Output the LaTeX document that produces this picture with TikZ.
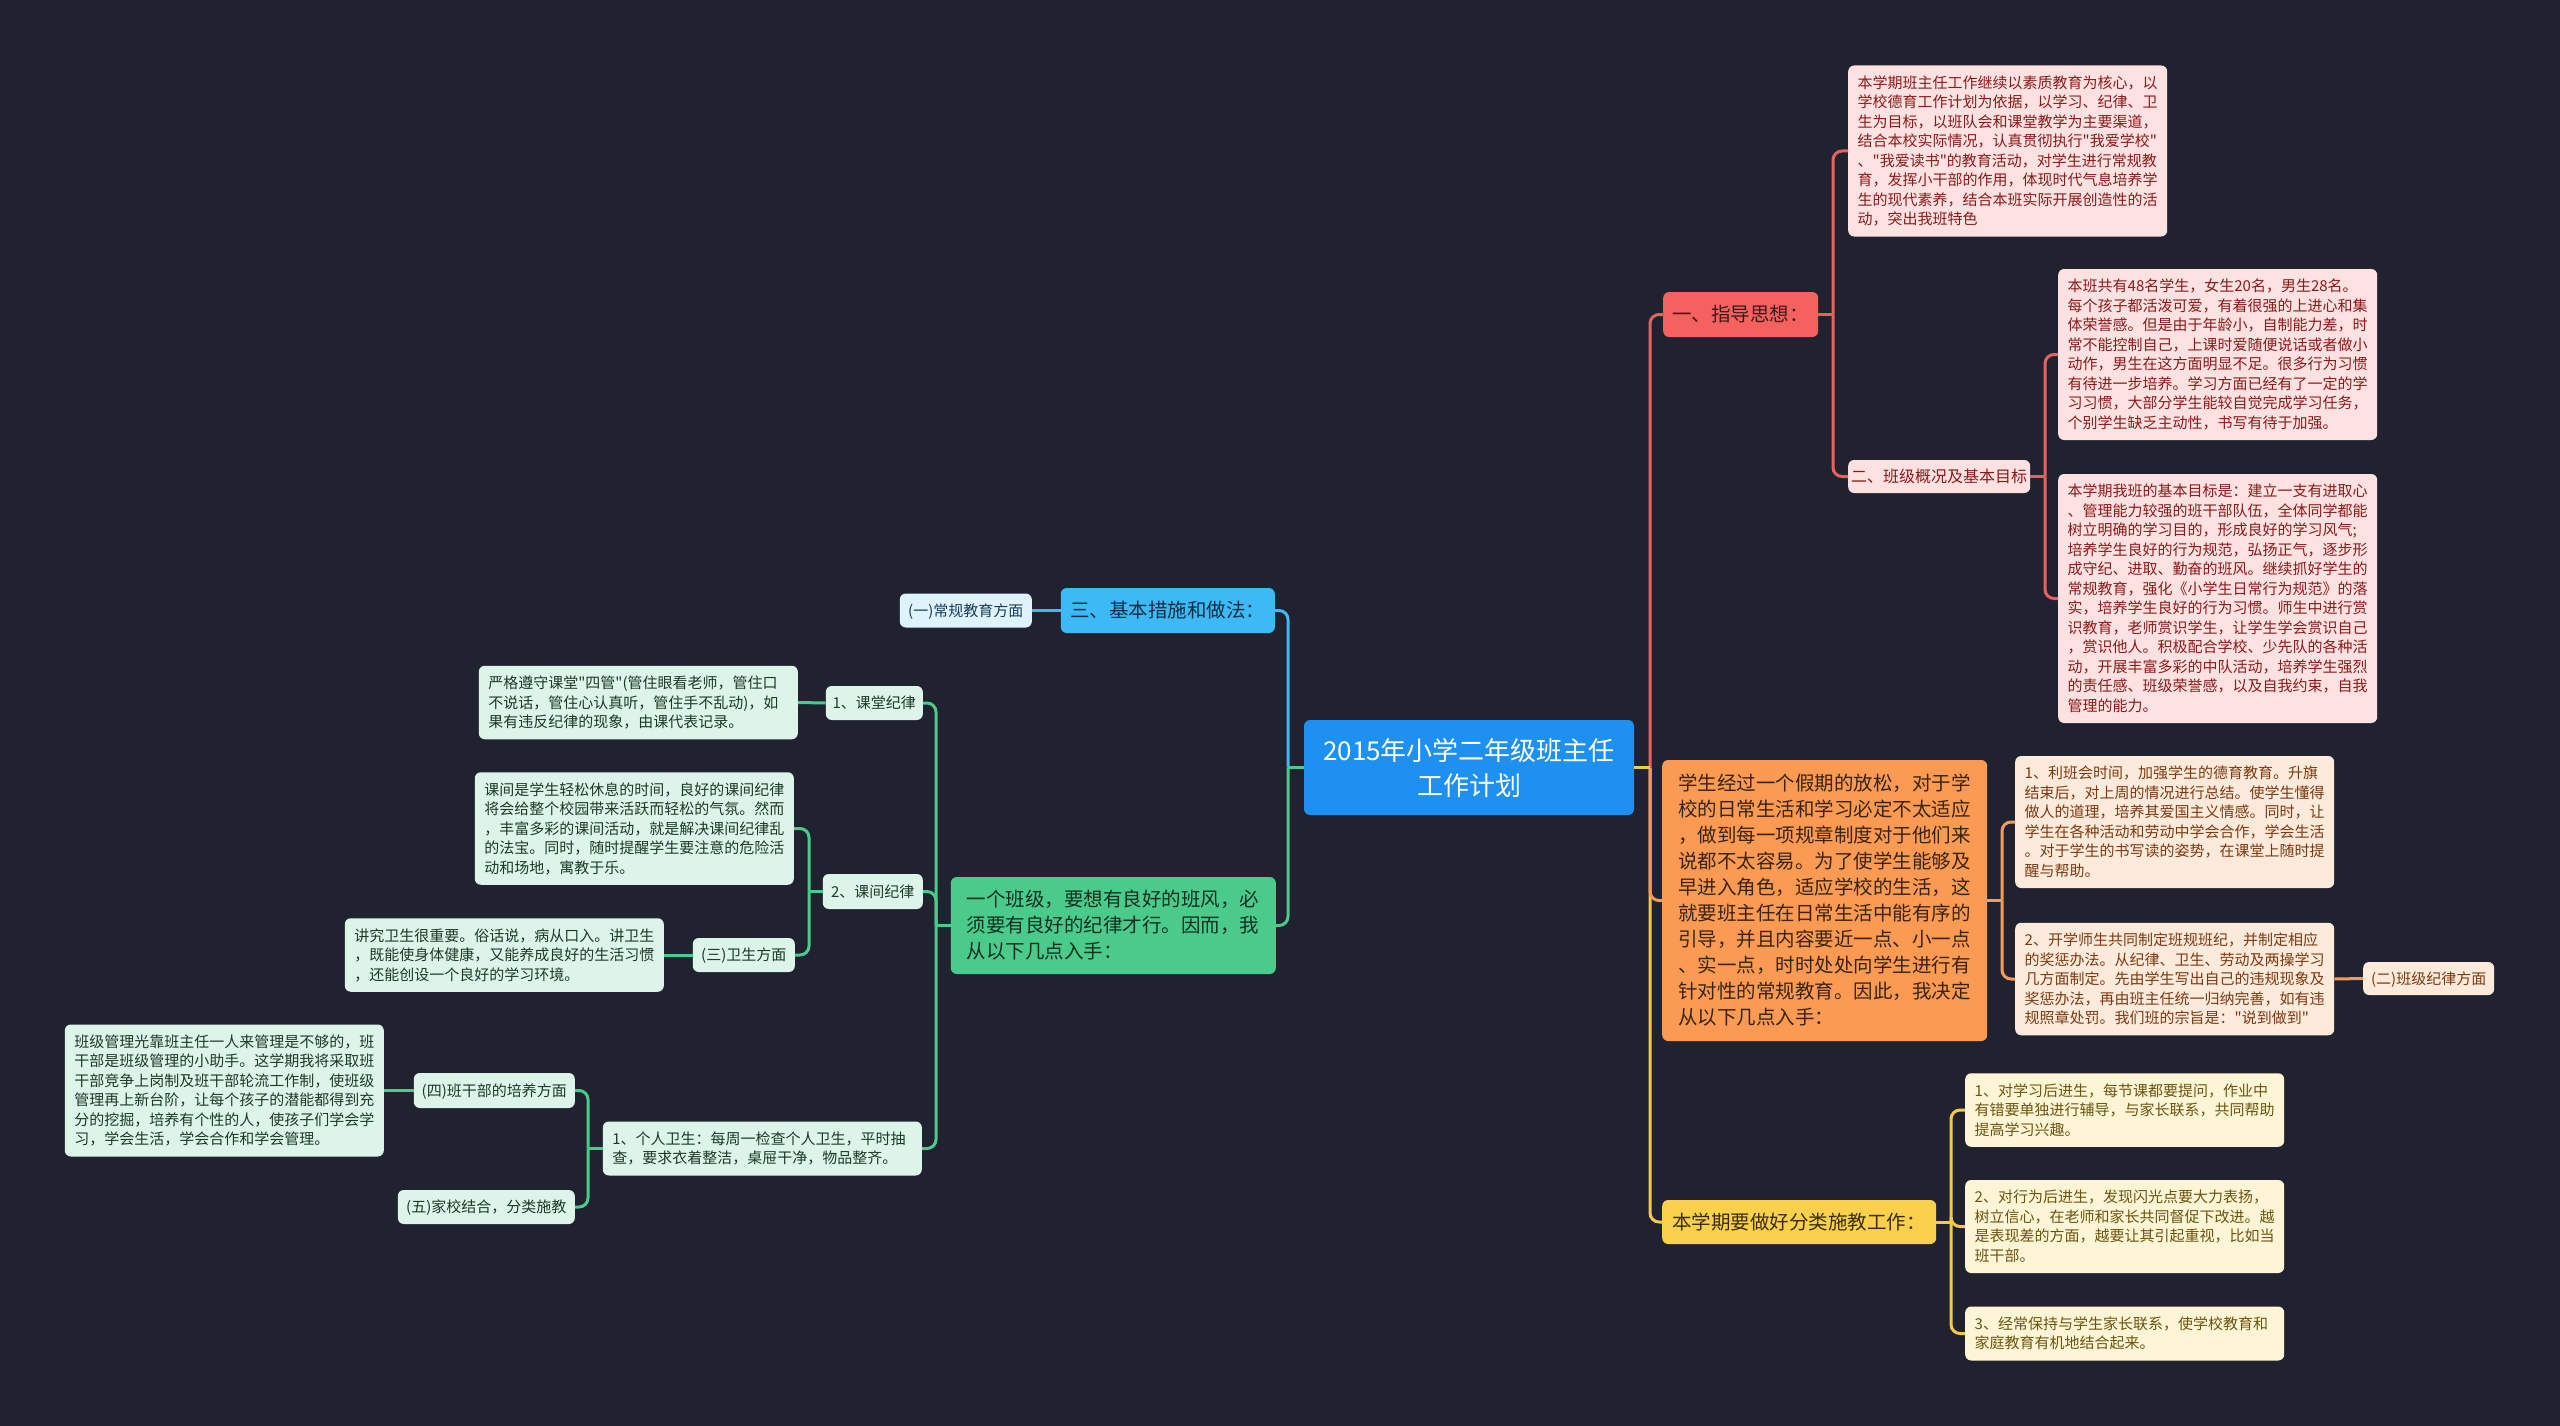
\documentclass[tikz,border=0pt]{standalone}
\usepackage{fontspec}
\setmainfont{Noto Sans CJK SC}[Ligatures=TeXOff]
\newcommand\cstrut{\rule[\dimexpr0.38em-0.5\baselineskip\relax]{0pt}{\baselineskip}}
\definecolor{bgcol}{HTML}{20232F}
\definecolor{rootfill}{HTML}{1E90F0}
\definecolor{redmain}{HTML}{F4615F}
\definecolor{redtext}{HTML}{3C1A1A}
\definecolor{redleaf}{HTML}{FDE2E1}
\definecolor{redleaftext}{HTML}{8B1A1A}
\definecolor{redline}{HTML}{E8615E}
\definecolor{ormain}{HTML}{FB9A52}
\definecolor{ortext}{HTML}{3A2410}
\definecolor{orleaf}{HTML}{FEEADB}
\definecolor{orleaftext}{HTML}{7A3A12}
\definecolor{orline}{HTML}{F39A5C}
\definecolor{ylmain}{HTML}{FAD04C}
\definecolor{yltext}{HTML}{3A2E08}
\definecolor{ylleaf}{HTML}{FDF5D5}
\definecolor{ylleaftext}{HTML}{6B5410}
\definecolor{ylline}{HTML}{F2C94C}
\definecolor{blmain}{HTML}{3DB9F6}
\definecolor{bltext}{HTML}{0E2E45}
\definecolor{blleaf}{HTML}{DFF3FD}
\definecolor{blleaftext}{HTML}{163A55}
\definecolor{blline}{HTML}{3DB9F6}
\definecolor{grmain}{HTML}{4ACB8B}
\definecolor{grtext}{HTML}{0F3020}
\definecolor{grleaf}{HTML}{DDF5E8}
\definecolor{grleaftext}{HTML}{1A3A2A}
\definecolor{grline}{HTML}{4ACB8B}
\tikzset{
  boxbase/.style={rounded corners=6pt, align=left, execute at begin node=\cstrut, execute at end node=\cstrut},
  leafbox/.style={boxbase, text width=300pt, inner xsep=9.5pt, inner ysep=7.5pt, font=\fontsize{15}{19.5}\selectfont},
  mainbox/.style={boxbase, text width=293pt, inner xsep=16pt, inner ysep=10pt, font=\fontsize{19.5}{26}\selectfont},
  lbl/.style={rounded corners=6pt, inner sep=0pt, align=center, font=\fontsize{15}{19.5}\selectfont, execute at begin node=\cstrut},
  biglbl/.style={lbl, font=\fontsize{19.5}{26}\selectfont},
  redleafbox/.style={leafbox, fill=redleaf, text=redleaftext},
  orleafbox/.style={leafbox, fill=orleaf, text=orleaftext},
  ylleafbox/.style={leafbox, fill=ylleaf, text=ylleaftext},
  grleafbox/.style={leafbox, fill=grleaf, text=grleaftext},
  link/.style={line width=3pt, rounded corners=9pt},
}
\begin{document}
\begin{tikzpicture}[x=1pt, y=-1pt]
\fill[bgcol] (0,0) rectangle (2560,1426);
\useasboundingbox (0,0) rectangle (2560,1426);

% trunk positions
\coordinate (tR) at (1650,0);
\coordinate (tL) at (1288,0);
\coordinate (t1) at (1833,0);
\coordinate (t2) at (2045,0);
\coordinate (tO) at (2002,0);
\coordinate (tY) at (1951,0);
\coordinate (tG) at (936,0);
\coordinate (tK) at (809,0);
\coordinate (tP) at (588,0);

% root
\node[rounded corners=6pt, fill=rootfill, text=white, align=center, inner sep=0pt,
      minimum width=330pt, minimum height=95pt, font=\fontsize{26}{35}\selectfont]
  (root) at (1469,767.5) {2015年小学二年级班主任\\工作计划};

% right side: red branch
\node[biglbl, fill=redmain, text=redtext, minimum width=155pt, minimum height=45pt, anchor=west]
  (n1) at (1663,314.5) {一、指导思想：};
\node[redleafbox, anchor=west] (a1) at (1848,151) {本学期班主任工作继续以素质教育为核心，以\\学校德育工作计划为依据，以学习、纪律、卫\\生为目标，以班队会和课堂教学为主要渠道，\\结合本校实际情况，认真贯彻执行"我爱学校"\\、"我爱读书"的教育活动，对学生进行常规教\\育，发挥小干部的作用，体现时代气息培养学\\生的现代素养，结合本班实际开展创造性的活\\动，突出我班特色};
\node[lbl, fill=redleaf, text=redleaftext, font=\fontsize{16}{21}\selectfont, minimum width=182pt, minimum height=33pt, anchor=west]
  (n2) at (1848,476.5) {二、班级概况及基本目标};
\node[redleafbox, anchor=west] (b1) at (2058,354.5) {本班共有48名学生，女生20名，男生28名。\\每个孩子都活泼可爱，有着很强的上进心和集\\体荣誉感。但是由于年龄小，自制能力差，时\\常不能控制自己，上课时爱随便说话或者做小\\动作，男生在这方面明显不足。很多行为习惯\\有待进一步培养。学习方面已经有了一定的学\\习习惯，大部分学生能较自觉完成学习任务，\\个别学生缺乏主动性，书写有待于加强。};
\node[redleafbox, anchor=west] (b2) at (2058,598.5) {本学期我班的基本目标是：建立一支有进取心\\、管理能力较强的班干部队伍，全体同学都能\\树立明确的学习目的，形成良好的学习风气;\\培养学生良好的行为规范，弘扬正气，逐步形\\成守纪、进取、勤奋的班风。继续抓好学生的\\常规教育，强化《小学生日常行为规范》的落\\实，培养学生良好的行为习惯。师生中进行赏\\识教育，老师赏识学生，让学生学会赏识自己\\，赏识他人。积极配合学校、少先队的各种活\\动，开展丰富多彩的中队活动，培养学生强烈\\的责任感、班级荣誉感，以及自我约束，自我\\管理的能力。};

% orange branch
\node[mainbox, fill=ormain, text=ortext, inner ysep=10.5pt, anchor=west] (om) at (1662,900.5) {学生经过一个假期的放松，对于学\\校的日常生活和学习必定不太适应\\，做到每一项规章制度对于他们来\\说都不太容易。为了使学生能够及\\早进入角色，适应学校的生活，这\\就要班主任在日常生活中能有序的\\引导，并且内容要近一点、小一点\\、实一点，时时处处向学生进行有\\针对性的常规教育。因此，我决定\\从以下几点入手：};
\node[orleafbox, anchor=west] (o1) at (2015,822) {1、利班会时间，加强学生的德育教育。升旗\\结束后，对上周的情况进行总结。使学生懂得\\做人的道理，培养其爱国主义情感。同时，让\\学生在各种活动和劳动中学会合作，学会生活\\。对于学生的书写读的姿势，在课堂上随时提\\醒与帮助。};
\node[orleafbox, anchor=west] (o2) at (2015,979) {2、开学师生共同制定班规班纪，并制定相应\\的奖惩办法。从纪律、卫生、劳动及两操学习\\几方面制定。先由学生写出自己的违规现象及\\奖惩办法，再由班主任统一归纳完善，如有违\\规照章处罚。我们班的宗旨是："说到做到"};
\node[lbl, fill=orleaf, text=orleaftext, minimum width=131pt, minimum height=33pt, anchor=west]
  (o3) at (2363,978.5) {(二)班级纪律方面};

% yellow branch
\node[biglbl, fill=ylmain, text=yltext, minimum width=274pt, minimum height=44pt, anchor=west]
  (ym) at (1662,1222) {本学期要做好分类施教工作：};
\node[ylleafbox, anchor=west] (y1) at (1965,1110) {1、对学习后进生，每节课都要提问，作业中\\有错要单独进行辅导，与家长联系，共同帮助\\提高学习兴趣。};
\node[ylleafbox, anchor=west] (y2) at (1965,1226.5) {2、对行为后进生，发现闪光点要大力表扬，\\树立信心，在老师和家长共同督促下改进。越\\是表现差的方面，越要让其引起重视，比如当\\班干部。};
\node[ylleafbox, anchor=west] (y3) at (1965,1333.5) {3、经常保持与学生家长联系，使学校教育和\\家庭教育有机地结合起来。};

% left side: blue branch
\node[biglbl, fill=blmain, text=bltext, minimum width=214pt, minimum height=45pt, anchor=east]
  (bm) at (1275,610.5) {三、基本措施和做法：};
\node[lbl, fill=blleaf, text=blleaftext, minimum width=132pt, minimum height=34pt, anchor=east]
  (bl) at (1032,610.5) {(一)常规教育方面};

% green branch
\node[mainbox, fill=grmain, text=grtext, inner ysep=9.5pt, anchor=east] (gm) at (1276,925.5) {一个班级，要想有良好的班风，必\\须要有良好的纪律才行。因而，我\\从以下几点入手：};
\node[lbl, fill=grleaf, text=grleaftext, minimum width=97pt, minimum height=34pt, anchor=east]
  (g1) at (923,703) {1、课堂纪律};
\node[grleafbox, anchor=east] (g1t) at (798,702.5) {严格遵守课堂"四管"(管住眼看老师，管住口\\不说话，管住心认真听，管住手不乱动)，如\\果有违反纪律的现象，由课代表记录。};
\node[lbl, fill=grleaf, text=grleaftext, minimum width=100pt, minimum height=35pt, anchor=east]
  (g2) at (923,891.5) {2、课间纪律};
\node[grleafbox, anchor=east] (g2t) at (794,828.5) {课间是学生轻松休息的时间，良好的课间纪律\\将会给整个校园带来活跃而轻松的气氛。然而\\，丰富多彩的课间活动，就是解决课间纪律乱\\的法宝。同时，随时提醒学生要注意的危险活\\动和场地，寓教于乐。};
\node[lbl, fill=grleaf, text=grleaftext, minimum width=102pt, minimum height=34pt, anchor=east]
  (g3) at (795,955) {(三)卫生方面};
\node[grleafbox, anchor=east] (g3t) at (664,955) {讲究卫生很重要。俗话说，病从口入。讲卫生\\，既能使身体健康，又能养成良好的生活习惯\\，还能创设一个良好的学习环境。};
\node[grleafbox, anchor=east] (g4) at (922,1148.5) {1、个人卫生：每周一检查个人卫生，平时抽\\查，要求衣着整洁，桌屉干净，物品整齐。};
\node[lbl, fill=grleaf, text=grleaftext, minimum width=161pt, minimum height=35pt, anchor=east]
  (g5) at (575,1090.5) {(四)班干部的培养方面};
\node[grleafbox, anchor=east] (g5t) at (384,1090.5) {班级管理光靠班主任一人来管理是不够的，班\\干部是班级管理的小助手。这学期我将采取班\\干部竞争上岗制及班干部轮流工作制，使班级\\管理再上新台阶，让每个孩子的潜能都得到充\\分的挖掘，培养有个性的人，使孩子们学会学\\习，学会生活，学会合作和学会管理。};
\node[lbl, fill=grleaf, text=grleaftext, minimum width=177pt, minimum height=34pt, anchor=east]
  (g6) at (575,1207) {(五)家校结合，分类施教};

% connectors: right of root
\draw[link, ylline] (root.east -| tR) |- (ym.west);
\draw[link, orline] (root.east -| tR) |- (om.west);
\draw[link, redline] (root.east -| tR) |- (n1.west);
\draw[link, ylline] (root.east) -- (root.east -| tR);
% red
\draw[link, redline] (n1.east) -- (n1.east -| t1);
\draw[link, redline] (n1.east -| t1) |- (a1.west);
\draw[link, redline] (n1.east -| t1) |- (n2.west);
\draw[link, redline] (n2.east) -- (n2.east -| t2);
\draw[link, redline] (n2.east -| t2) |- (b1.west);
\draw[link, redline] (n2.east -| t2) |- (b2.west);
% orange
\draw[link, orline] (om.east) -- (om.east -| tO);
\draw[link, orline] (om.east -| tO) |- (o1.west);
\draw[link, orline] (om.east -| tO) |- (o2.west);
\draw[link, orline] (o2.east) -- (o3.west);
% yellow
\draw[link, ylline] (ym.east) -- (ym.east -| tY);
\draw[link, ylline] (ym.east -| tY) |- (y1.west);
\draw[link, ylline] (ym.east -| tY) |- (y2.west);
\draw[link, ylline] (ym.east -| tY) |- (y3.west);
% left of root
\draw[link, grline] (root.west -| tL) |- (gm.east);
\draw[link, blline] (root.west -| tL) |- (bm.east);
\draw[link, grline] (root.west) -- (root.west -| tL);
\draw[link, blline] (bm.west) -- (bl.east);
% green
\draw[link, grline] (gm.west) -- (gm.west -| tG);
\draw[link, grline] (gm.west -| tG) |- (g1.east);
\draw[link, grline] (gm.west -| tG) |- (g2.east);
\draw[link, grline] (gm.west -| tG) |- (g4.east);
\draw[link, grline] (g1.west) -- (g1t.east);
\draw[link, grline] (g2.west) -- (g2.west -| tK);
\draw[link, grline] (g2.west -| tK) |- (g2t.east);
\draw[link, grline] (g2.west -| tK) |- (g3.east);
\draw[link, grline] (g3.west) -- (g3t.east);
\draw[link, grline] (g4.west) -- (g4.west -| tP);
\draw[link, grline] (g4.west -| tP) |- (g5.east);
\draw[link, grline] (g4.west -| tP) |- (g6.east);
\draw[link, grline] (g5.west) -- (g5t.east);
\end{tikzpicture}
\end{document}
